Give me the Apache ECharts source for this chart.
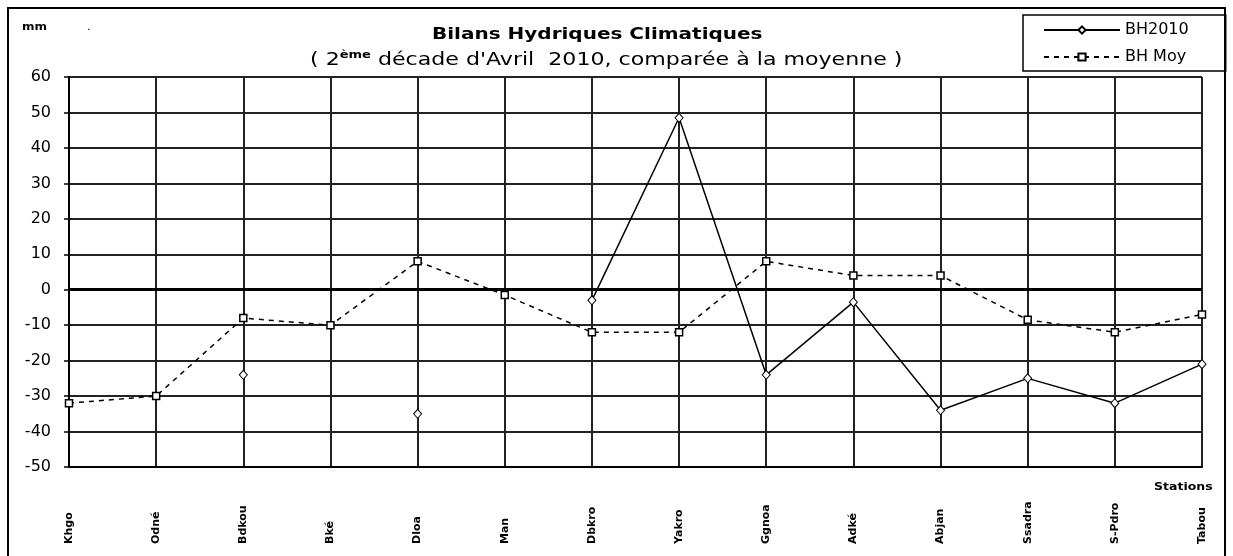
<!DOCTYPE html>
<html>
<head>
<meta charset="utf-8">
<script src="https://cdn.jsdelivr.net/npm/echarts@6/dist/echarts.min.js"></script>
<style>
  html, body { margin: 0; padding: 0; background: #fff; }
  #chart { width: 1233px; height: 556px; }
</style>
</head>
<body>
<div id="chart"></div>
<script>
// stations (x axis)
var stations = ["Khgo", "Odné", "Bdkou", "Bké", "Dloa", "Man", "Dbkro", "Yakro", "Ggnoa", "Adké", "Abjan", "Ssadra", "S-Pdro", "Tabou"];
// bilan hydrique 2010 (null = pas de donnée)
var bh2010 = [null, null, -24, null, -35, null, -3, 48.5, -24, -3.5, -34, -25, -32, -21];
// bilan hydrique moyen
var bhMoy = [-32, -30, -8, -10, 8, -1.5, -12, -12, 8, 4, 4, -8.5, -12, -7];
// graduations
var yTicks = { min: -50, max: 60, interval: 10 };

var font = "DejaVu Sans";
var mychart = echarts.init(document.getElementById("chart"));

mychart.setOption({
  animation: false,
  legend: {
    orient: "vertical",
    left: 1023,
    top: 15,
    padding: [7, 37, 6, 20],
    itemGap: 11,
    itemWidth: 76,
    itemHeight: 9,
    borderColor: "#000",
    borderWidth: 1.5,
    textStyle: { fontFamily: font, fontSize: 16, color: "#000" },
    data: ["BH2010", "BH Moy"]
  },
  grid: {
    left: 69,
    right: 31,
    top: 77,
    bottom: 89
  },
  xAxis: {
    type: "category",
    data: stations,
    boundaryGap: false,
    axisLine: { onZero: false, lineStyle: { color: "#000", width: 2 } },
    axisTick: { show: false },
    splitLine: { show: true, lineStyle: { color: "#222", width: 2 } },
    axisLabel: {
      rotate: 90,
      align: "left",
      margin: 77,
      interval: 0,
      fontFamily: font,
      fontSize: 11,
      fontWeight: "bold",
      color: "#000"
    }
  },
  yAxis: {
    type: "value",
    min: yTicks.min,
    max: yTicks.max,
    interval: yTicks.interval,
    axisLine: { show: true, lineStyle: { color: "#000", width: 2 } },
    axisTick: { show: true, length: 5, lineStyle: { color: "#000", width: 1.5 } },
    splitLine: { show: true, lineStyle: { color: "#222", width: 2 } },
    axisLabel: { margin: 18, fontFamily: font, fontSize: 16, color: "#000" }
  },
  graphic: [
    {
      type: "rect",
      shape: { x: 8, y: 8, width: 1217, height: 570 },
      style: { fill: "none", stroke: "#000", lineWidth: 2 },
      silent: true
    },
    {
      type: "text",
      x: 432,
      y: 35,
      scaleX: 1.25,
      style: {
        text: "Bilans Hydriques Climatiques",
        font: "bold 16px " + font,
        fill: "#000",
        verticalAlign: "middle"
      }
    },
    {
      type: "text",
      x: 310,
      y: 50,
      scaleX: 1.3,
      style: {
        text: "{a|( 2}{s|ème}{a| décade d'Avril  2010, comparée à la moyenne )}",
        rich: {
          a: { fontFamily: font, fontSize: 17, fill: "#000", lineHeight: 19, verticalAlign: "bottom" },
          s: { fontFamily: font, fontSize: 10, fontWeight: "bold", fill: "#000", lineHeight: 19, verticalAlign: "top" }
        }
      }
    },
    {
      type: "text",
      x: 22,
      y: 22,
      scaleX: 1.2,
      style: { text: "mm", font: "bold 10px " + font, fill: "#000" }
    },
    {
      type: "text",
      x: 87,
      y: 22,
      style: { text: ".", font: "11px " + font, fill: "#000" }
    },
    {
      type: "text",
      x: 1154,
      y: 482,
      scaleX: 1.25,
      style: { text: "Stations", font: "bold 10px " + font, fill: "#000" }
    }
  ],
  series: [
    {
      name: "BH2010",
      type: "line",
      data: bh2010,
      symbol: "diamond",
      symbolSize: [8, 9],
      showAllSymbol: true,
      connectNulls: false,
      lineStyle: { color: "#000", width: 1.5, type: "solid" },
      itemStyle: { color: "#fff", borderColor: "#000", borderWidth: 1 },
      z: 4
    },
    {
      name: "BH Moy",
      type: "line",
      data: bhMoy,
      symbol: "rect",
      symbolSize: 7,
      showAllSymbol: true,
      lineStyle: { color: "#000", width: 1.5, type: [5, 5] },
      itemStyle: { color: "#fff", borderColor: "#000", borderWidth: 1.5 },
      z: 3,
      markLine: {
        silent: true,
        symbol: "none",
        label: { show: false },
        lineStyle: { color: "#000", width: 3, type: "solid" },
        data: [{ yAxis: 0 }]
      }
    }
  ]
});
</script>
</body>
</html>
